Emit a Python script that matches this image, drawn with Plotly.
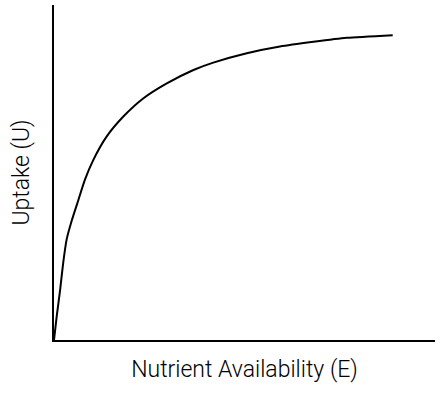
import plotly.graph_objects as go

# Values (arbitrary units, axes 0-100)
nutrient_E = [0, 0.7, 1.6, 2.4, 3.3, 4.7, 6.4, 8.1, 10.3, 13.8, 18.2, 23.4, 29.6, 36.6,
              41.8, 50.6, 59.3, 68.1, 76.8, 88.9]
uptake_U = [0, 7.0, 14.9, 22.9, 29.9, 35.8, 41.8, 47.8, 53.7, 60.7, 66.7, 72.1, 76.6, 80.6,
            82.8, 85.6, 87.6, 89.0, 90.2, 91.0]

x_title = "Nutrient Availability (E)"
y_title = "Uptake (U)"

fig = go.Figure(go.Scatter(
    x=nutrient_E, y=uptake_U, mode="lines",
    line=dict(color="black", width=2, shape="spline", smoothing=0.6),
    hoverinfo="skip",
))

font = dict(family="Roboto, Liberation Sans, Arial, sans-serif", size=23, color="black", weight=300)
fig.update_layout(
    width=442, height=394,
    margin=dict(l=54, r=7, t=5, b=54, autoexpand=False),
    plot_bgcolor="white", paper_bgcolor="white",
    showlegend=False,
    font=font,
)
fig.update_xaxes(range=[0, 100], showline=True, linecolor="black", linewidth=1.5,
                 showgrid=False, zeroline=False, ticks="", showticklabels=False,
                 automargin=False,
                 title=dict(text=x_title, font=font, standoff=20))
fig.update_yaxes(range=[0, 100], showline=True, linecolor="black", linewidth=1.5,
                 showgrid=False, zeroline=False, ticks="", showticklabels=False,
                 automargin=False,
                 title=dict(text=y_title, font=font, standoff=16))

fig.write_html("out.html", config={"displayModeBar": False},
               post_script="document.body.style.margin='0';document.body.style.overflow='hidden';")
